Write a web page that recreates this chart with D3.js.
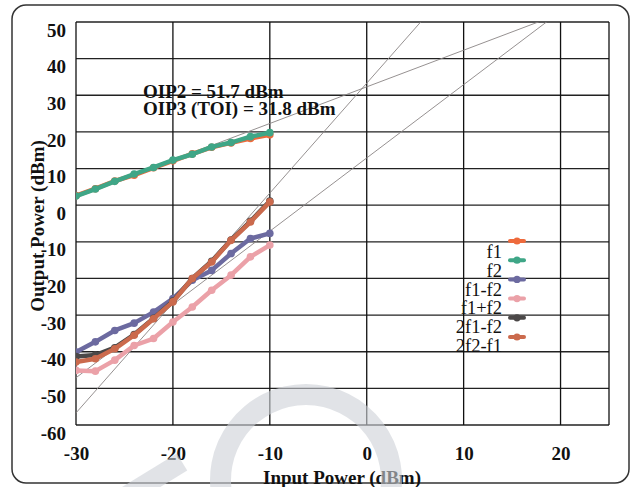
<!DOCTYPE html>
<html>
<head>
<meta charset="utf-8">
<script src="https://cdn.jsdelivr.net/npm/d3@7"></script>
<style>
  html, body { margin: 0; padding: 0; background: #fff; }
  svg { display: block; }
  text { font-family: "Liberation Serif", "Times New Roman", serif; }
</style>
</head>
<body>
<svg id="chart" width="630" height="487"></svg>
<script>
// ---- data ----
const inputPower = [-30, -28, -26, -24, -22, -20, -18, -16, -14, -12, -10];
const f1     = [2.6, 4.5, 6.6, 8.2, 10.2, 12.1, 14.0, 15.8, 17.0, 18.2, 19.2];
const f2     = [2.5, 4.4, 6.5, 8.5, 10.3, 12.3, 13.9, 15.9, 17.1, 18.7, 19.8];
const f1mf2  = [-40.1, -37.3, -34.2, -32.2, -29.2, -25.5, -20.5, -17.8, -13.2, -9.1, -7.7];
const f1pf2  = [-45.1, -45.3, -42.3, -38.3, -36.4, -31.9, -27.8, -23.2, -19.1, -14.1, -10.9];
const im3a   = [-41.3, -40.9, -38.9, -35.3, -30.9, -26.2, -20.0, -15.3, -9.5, -4.4, 1.1];
const im3b   = [-42.8, -41.9, -39.2, -35.5, -31.0, -26.4, -20.0, -15.5, -9.6, -4.6, 0.9];
const seriesNames  = ["f1", "f2", "f1-f2", "f1+f2", "2f1-f2", "2f2-f1"];
const seriesColors = ["#ee6a3c", "#3fa687", "#6c6aa0", "#eba1a8", "#4b4848", "#cb6a4d"];
const xTicks = [-30, -20, -10, 0, 10, 20];
const yTicks = [-60, -50, -40, -30, -20, -10, 0, 10, 20, 30, 40, 50];
const oip2 = 51.7, oip3 = 31.8, gain = 32.3;   // extrapolation lines
const annotations = ["OIP2 = 51.7 dBm", "OIP3 (TOI) = 31.8 dBm"];

const seriesValues = [f1, f2, f1mf2, f1pf2, im3a, im3b];

// ---- layout ----
const svg = d3.select("#chart");
const x = d3.scaleLinear().domain([-30, 25]).range([76, 609]);
const y = d3.scaleLinear().domain([-60, 50]).range([425, 22]);

// outer rounded frame
svg.append("rect").attr("x", 12).attr("y", 5).attr("width", 617).attr("height", 478)
  .attr("rx", 14).attr("fill", "none").attr("stroke", "#333").attr("stroke-width", 1.5);

svg.append("defs").append("clipPath").attr("id", "plotclip")
  .append("rect").attr("x", x(-30)).attr("y", y(50))
  .attr("width", x(25) - x(-30)).attr("height", y(-60) - y(50));

// grid
const grid = svg.append("g");
grid.selectAll("line.h").data(yTicks).join("line")
  .attr("x1", x(-30)).attr("x2", x(25))
  .attr("y1", d => y(d)).attr("y2", d => y(d))
  .attr("stroke", "#222").attr("stroke-width", 1.3);
grid.selectAll("line.v").data(xTicks.concat([25])).join("line")
  .attr("y1", y(50)).attr("y2", y(-60))
  .attr("x1", d => x(d)).attr("x2", d => x(d))
  .attr("stroke", "#111").attr("stroke-width", 1.3);

const fmt = d => String(d);
// axes labels via d3 axes (domain/ticks hidden)
const yAxis = svg.append("g").attr("transform", `translate(${x(-30)},0)`)
  .call(d3.axisLeft(y).tickValues(yTicks).tickSize(0).tickPadding(10).tickFormat(fmt));
yAxis.select(".domain").remove();
yAxis.selectAll("text").attr("dy", "0.32em").attr("transform", "translate(0,8)")
  .style("font-family", "Liberation Serif").style("font-weight", "bold")
  .style("font-size", "19px").attr("fill", "#111");

const xAxis = svg.append("g").attr("transform", `translate(0,${y(-60)})`)
  .call(d3.axisBottom(x).tickValues(xTicks).tickSize(0).tickPadding(22).tickFormat(fmt));
xAxis.select(".domain").remove();
xAxis.selectAll("text")
  .style("font-family", "Liberation Serif").style("font-weight", "bold")
  .style("font-size", "19px").attr("fill", "#111");

svg.append("text").attr("x", 342).attr("y", 484).attr("text-anchor", "middle")
  .style("font-weight", "bold").style("font-size", "19px").attr("fill", "#111")
  .text("Input Power (dBm)");
svg.append("text").attr("transform", "translate(44,226) rotate(-90)").attr("text-anchor", "middle")
  .style("font-weight", "bold").style("font-size", "19px").attr("fill", "#111")
  .text("Output Power (dBm)");

// extrapolation lines
const refG = svg.append("g").attr("clip-path", "url(#plotclip)");
const xA = -30, xB = 25;
const fund = v => v + gain;
const x3 = oip3 - gain;                   // intersection of fundamental & IM3
const im3line = v => oip3 + 3 * (v - x3);
const x2 = oip2 - gain;
const im2line = v => oip2 + 2 * (v - x2);
[fund, im3line, im2line].forEach(fn => {
  refG.append("line")
    .attr("x1", x(xA)).attr("y1", y(fn(xA)))
    .attr("x2", x(xB)).attr("y2", y(fn(xB)))
    .attr("stroke", "#8a8585").attr("stroke-width", 0.9);
});

// series
const lineGen = d3.line().x((d, i) => x(inputPower[i])).y(d => y(d));
const dataG = svg.append("g").attr("clip-path", "url(#plotclip)");
seriesValues.forEach((vals, k) => {
  const g = dataG.append("g");
  g.append("path").datum(vals).attr("d", lineGen)
    .attr("fill", "none").attr("stroke", seriesColors[k]).attr("stroke-width", 4.5)
    .attr("stroke-linejoin", "round").attr("stroke-linecap", "round");
  g.selectAll("circle").data(vals).join("circle")
    .attr("cx", (d, i) => x(inputPower[i])).attr("cy", d => y(d)).attr("r", 3.8)
    .attr("fill", seriesColors[k]);
});

// annotations
svg.append("text").attr("x", 143).attr("y", 98)
  .style("font-weight", "bold").style("font-size", "19px").attr("fill", "#111").text(annotations[0]);
svg.append("text").attr("x", 143).attr("y", 115)
  .style("font-weight", "bold").style("font-size", "19px").attr("fill", "#111").text(annotations[1]);

// legend
const leg = svg.append("g");
seriesNames.forEach((name, k) => {
  const my = 241 + k * 19.2;
  leg.append("line").attr("x1", 510).attr("x2", 524).attr("y1", my).attr("y2", my)
    .attr("stroke", seriesColors[k]).attr("stroke-width", 4).attr("stroke-linecap", "round");
  leg.append("circle").attr("cx", 517).attr("cy", my).attr("r", 3.6).attr("fill", seriesColors[k]);
  leg.append("text").attr("x", 502).attr("y", 258 + k * 18.8).attr("text-anchor", "end")
    .style("font-size", "18.5px").attr("fill", "#111").text(name);
});

// faint watermark overlay
const wm = svg.append("g").attr("opacity", 0.6).attr("pointer-events", "none");
wm.append("path")
  .attr("d", d3.arc().innerRadius(75).outerRadius(96).startAngle(-1.85).endAngle(1.85)())
  .attr("transform", "translate(306,480)").attr("fill", "#ced2d8");
wm.append("line").attr("x1", 120).attr("y1", 500).attr("x2", 182).attr("y2", 462)
  .attr("stroke", "#ced2d8").attr("stroke-width", 20);
</script>
</body>
</html>
